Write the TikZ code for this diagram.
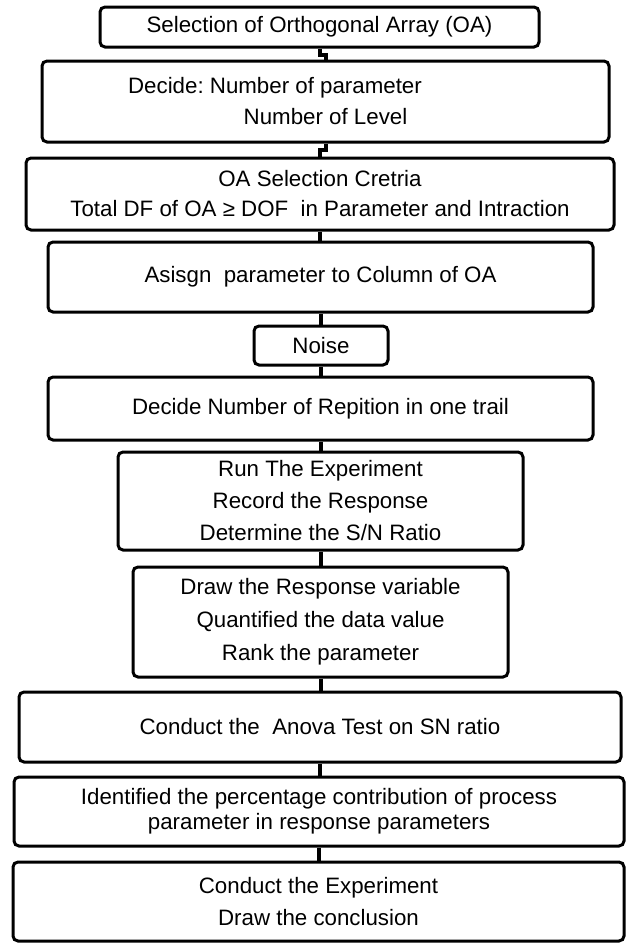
\documentclass[tikz,border=0pt]{standalone}
\usepackage{fontspec}
\setmainfont{Liberation Sans}
\frenchspacing
\begin{document}
\begin{tikzpicture}[x=1pt,y=-1pt]
\tikzset{
  stepbox/.style={draw=black, line width=3pt, rounded corners=5pt, fill=white,
    inner sep=0pt, align=center, font=\fontsize{22.3}{31}\selectfont},
  link/.style={draw=black, line width=4pt}
}
\useasboundingbox (0,0) rectangle (626,943);

% process steps (top to bottom)
\node[stepbox, minimum width=439pt, minimum height=40pt] (b1) at (319.5,27)
  {Selection of Orthogonal Array (OA)};
\node[stepbox, minimum width=567pt, minimum height=81pt] (b2) at (325.5,101.5)
  {\makebox[0pt]{\hspace*{-101pt}Decide: Number of parameter}\\ Number of Level};
\node[stepbox, minimum width=588pt, minimum height=72pt,
  font=\fontsize{22.3}{30}\selectfont] (b3) at (320,194)
  {OA Selection Cretria\\ Total DF of OA ≥ DOF\ \ in Parameter and Intraction};
\node[stepbox, minimum width=545pt, minimum height=70pt] (b4) at (320.5,277)
  {Asisgn\ \ parameter to Column of OA};
\node[stepbox, minimum width=134pt, minimum height=39pt] (noise) at (321,345.5)
  {Noise};
\node[stepbox, minimum width=545pt, minimum height=63pt] (b6) at (320.5,408.5)
  {Decide Number of Repition in one trail};
\node[stepbox, minimum width=405pt, minimum height=98pt,
  font=\fontsize{22.3}{32}\selectfont] (b7) at (320.5,501)
  {Run The Experiment\\ Record the Response\\ Determine the S/N Ratio};
\node[stepbox, minimum width=375pt, minimum height=110pt,
  font=\fontsize{22.3}{33}\selectfont] (b8) at (320.5,622)
  {Draw the Response variable\\ Quantified the data value\\ Rank the parameter};
\node[stepbox, minimum width=602pt, minimum height=70pt] (b9) at (320,727)
  {Conduct the\ \ Anova Test on SN ratio};
\node[stepbox, minimum width=610pt, minimum height=69pt,
  font=\fontsize{22.3}{25}\selectfont] (b10) at (319,811.5)
  {Identified the percentage contribution of process\\ parameter in response parameters};
\node[stepbox, minimum width=611pt, minimum height=79pt,
  font=\fontsize{22.3}{32}\selectfont] (b11) at (318.5,901.5)
  {Conduct the Experiment\\ Draw the conclusion};

% connectors
\draw[link] (b1.south) -- ++(0,6) -| (b2.north);
\draw[link] (b2.south) -- ++(0,6) -| (b3.north);
\draw[link] (b3.south) -- (b3.south |- b4.north);
\draw[link] (b4.south) -- (b4.south |- noise.north);
\draw[link] (noise.south) -- (noise.south |- b6.north);
\draw[link] (b6.south) -- (b6.south |- b7.north);
\draw[link] (b7.south) -- (b7.south |- b8.north);
\draw[link] (b8.south) -- (b8.south |- b9.north);
\draw[link] (b9.south) -- (b9.south |- b10.north);
\draw[link] (b10.south) -- (b10.south |- b11.north);
\end{tikzpicture}
\end{document}
